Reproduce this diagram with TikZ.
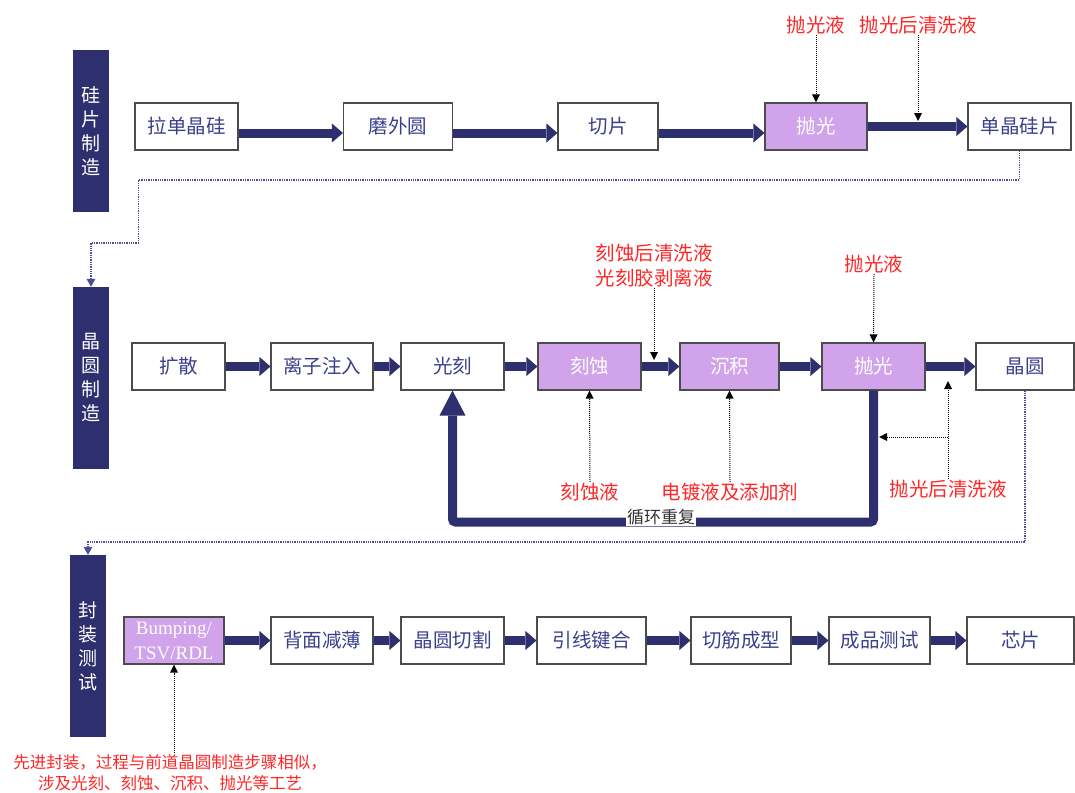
\documentclass[tikz,border=0pt]{standalone}
\usepackage{fontspec}
\setmainfont{Noto Sans CJK SC}
\newfontfamily\latinserif{Liberation Serif}
\usepackage{tikz}
\usepackage{xcolor}
\usetikzlibrary{arrows.meta}

\definecolor{navy}{HTML}{2E2F6E}
\definecolor{boxtext}{HTML}{3B3F8C}
\definecolor{stepfill}{HTML}{D0A3EA}
\definecolor{chemred}{HTML}{FF2626}
\definecolor{linkblue}{HTML}{4B4E94}

\tikzset{
  stagebar/.style={fill=navy, text=white, minimum width=36pt, inner sep=0pt, align=center, font=\fontsize{19}{24}\selectfont},
  stepbox/.style={draw=black!70, line width=1.1pt, fill=white, text=boxtext, minimum height=47pt, inner sep=0pt, font=\fontsize{19.5}{22}\selectfont},
  fatarrow/.style={navy, line width=9pt, -{Triangle[length=11pt,width=19pt,line width=0pt]}},
  chem/.style={text=chemred, inner sep=1pt, align=center, font=\fontsize{19.5}{25}\selectfont},
  feedline/.style={black, densely dotted, line width=1pt, -{Triangle[length=8pt,width=8pt,line width=0pt]}},
  stagelink/.style={linkblue, densely dotted, line width=1.3pt, -{Triangle[length=8pt,width=9pt,line width=0pt]}},
  loopback/.style={navy, line width=9pt, rounded corners=3pt, -{Triangle[length=25pt,width=26pt,line width=0pt]}},
  looptag/.style={fill=white, text=black!80, inner sep=1pt, font=\fontsize{17}{20}\selectfont}
}

\begin{document}
\begin{tikzpicture}[x=1pt,y=-1pt]
\useasboundingbox (0,0) rectangle (1075,792);

% stage bars
\node[stagebar, minimum height=162pt] (bar1) at (91,131) {硅\\片\\制\\造};
\node[stagebar, minimum height=182pt] (bar2) at (91,378) {晶\\圆\\制\\造};
\node[stagebar, minimum height=182pt] (bar3) at (88,646) {封\\装\\测\\试};

% silicon wafer
\foreach \nm/\x/\w/\fc/\tc/\txt in {r1a/186.5/103/white/boxtext/拉单晶硅, r1b/398/109/white/boxtext/磨外圆, r1c/608/100/white/boxtext/切片, r1d/816/102/stepfill/white/抛光, r1e/1019.5/103/white/boxtext/单晶硅片}
  \node[stepbox, minimum width=\w pt, fill=\fc, text=\tc] (\nm) at (\x,126.5) {\txt};
\foreach \a/\b in {r1a/r1b, r1b/r1c, r1c/r1d}
  \draw[fatarrow] ([yshift=-6.5pt]\a.east) -- ([yshift=-6.5pt]\b.west);
\draw[fatarrow] (r1d) -- (r1e);

\node[chem] (c1) at (816,25) {抛光液};
\node[chem] (c2) at (918,25) {抛光后清洗液};
\coordinate (d1) at (918,121);
\draw[feedline] (c1.south) -- (r1d.north);
\draw[feedline] (c2.south) -- (d1);

% wafer fab
\foreach \nm/\x/\w/\fc/\tc/\txt in {r2a/178.5/93/white/boxtext/扩散, r2b/322/102/white/boxtext/离子注入, r2c/452.5/103/white/boxtext/光刻, r2d/589.5/103/stepfill/white/刻蚀, r2e/729.5/99/stepfill/white/沉积, r2f/873.5/103/stepfill/white/抛光, r2g/1025/98/white/boxtext/晶圆}
  \node[stepbox, minimum width=\w pt, fill=\fc, text=\tc] (\nm) at (\x,366.5) {\txt};
\foreach \a/\b in {r2a/r2b, r2b/r2c, r2c/r2d, r2d/r2e, r2e/r2f, r2f/r2g}
  \draw[fatarrow] (\a) -- (\b);

\coordinate (k4) at (452.5,522);
\draw[loopback] (r2f.south) |- (k4) -- (r2c.south);
\node[looptag] (loop) at (661,517) {循环重复};

\node[chem] (c3) at (654,265.5) {刻蚀后清洗液\\光刻胶剥离液};
\node[chem] (c4) at (874,264) {抛光液};
\node[chem] (c5) at (590,492) {刻蚀液};
\node[chem] (c6) at (730,492) {电镀液及添加剂};
\node[chem] (c7) at (948,489) {抛光后清洗液};
\coordinate (d2) at (654,360);
\coordinate (d3) at (948,381);
\coordinate (j1) at (948,437);
\coordinate (d4) at (879,437);
\draw[feedline] (c3.south) -- (d2);
\draw[feedline] (c4.south) -- (r2f.north);
\draw[feedline] (c5.north) -- (r2d.south);
\draw[feedline] (c6.north) -- (r2e.south);
\draw[feedline] (c7.north) -- (d3);
\draw[feedline] (j1) -- (d4);

% packaging and test
\node[stepbox, minimum width=100pt, fill=stepfill, text=white, align=center, font=\latinserif\fontsize{19}{25}\selectfont] (r3a) at (174,640.5) {Bumping/\\TSV/RDL};
\foreach \nm/\x/\w/\txt in {r3b/322/102/背面减薄, r3c/452.5/103/晶圆切割, r3d/591.5/109/引线键合, r3e/741/100/切筋成型, r3f/879.5/101/成品测试, r3g/1020.5/107/芯片}
  \node[stepbox, minimum width=\w pt] (\nm) at (\x,640.5) {\txt};
\foreach \a/\b in {r3a/r3b, r3b/r3c, r3c/r3d, r3d/r3e, r3e/r3f, r3f/r3g}
  \draw[fatarrow] (\a) -- (\b);

\node[chem, font=\fontsize{16.5}{21}\selectfont] (note) at (170,772.5) {先进封装，过程与前道晶圆制造步骤相似，\\涉及光刻、刻蚀、沉积、抛光等工艺};
\draw[feedline] (note.north -| r3a.south) -- (r3a.south);

% links between stages
\coordinate (k1) at (138.5,180);
\coordinate (k2) at (91,243);
\coordinate (k3) at (88,542);
\draw[stagelink] (r1e.south) |- (k1) |- (k2) -- (bar2.north);
\draw[stagelink] (r2g.south) |- (k3) -- (bar3.north);

\end{tikzpicture}
\end{document}
